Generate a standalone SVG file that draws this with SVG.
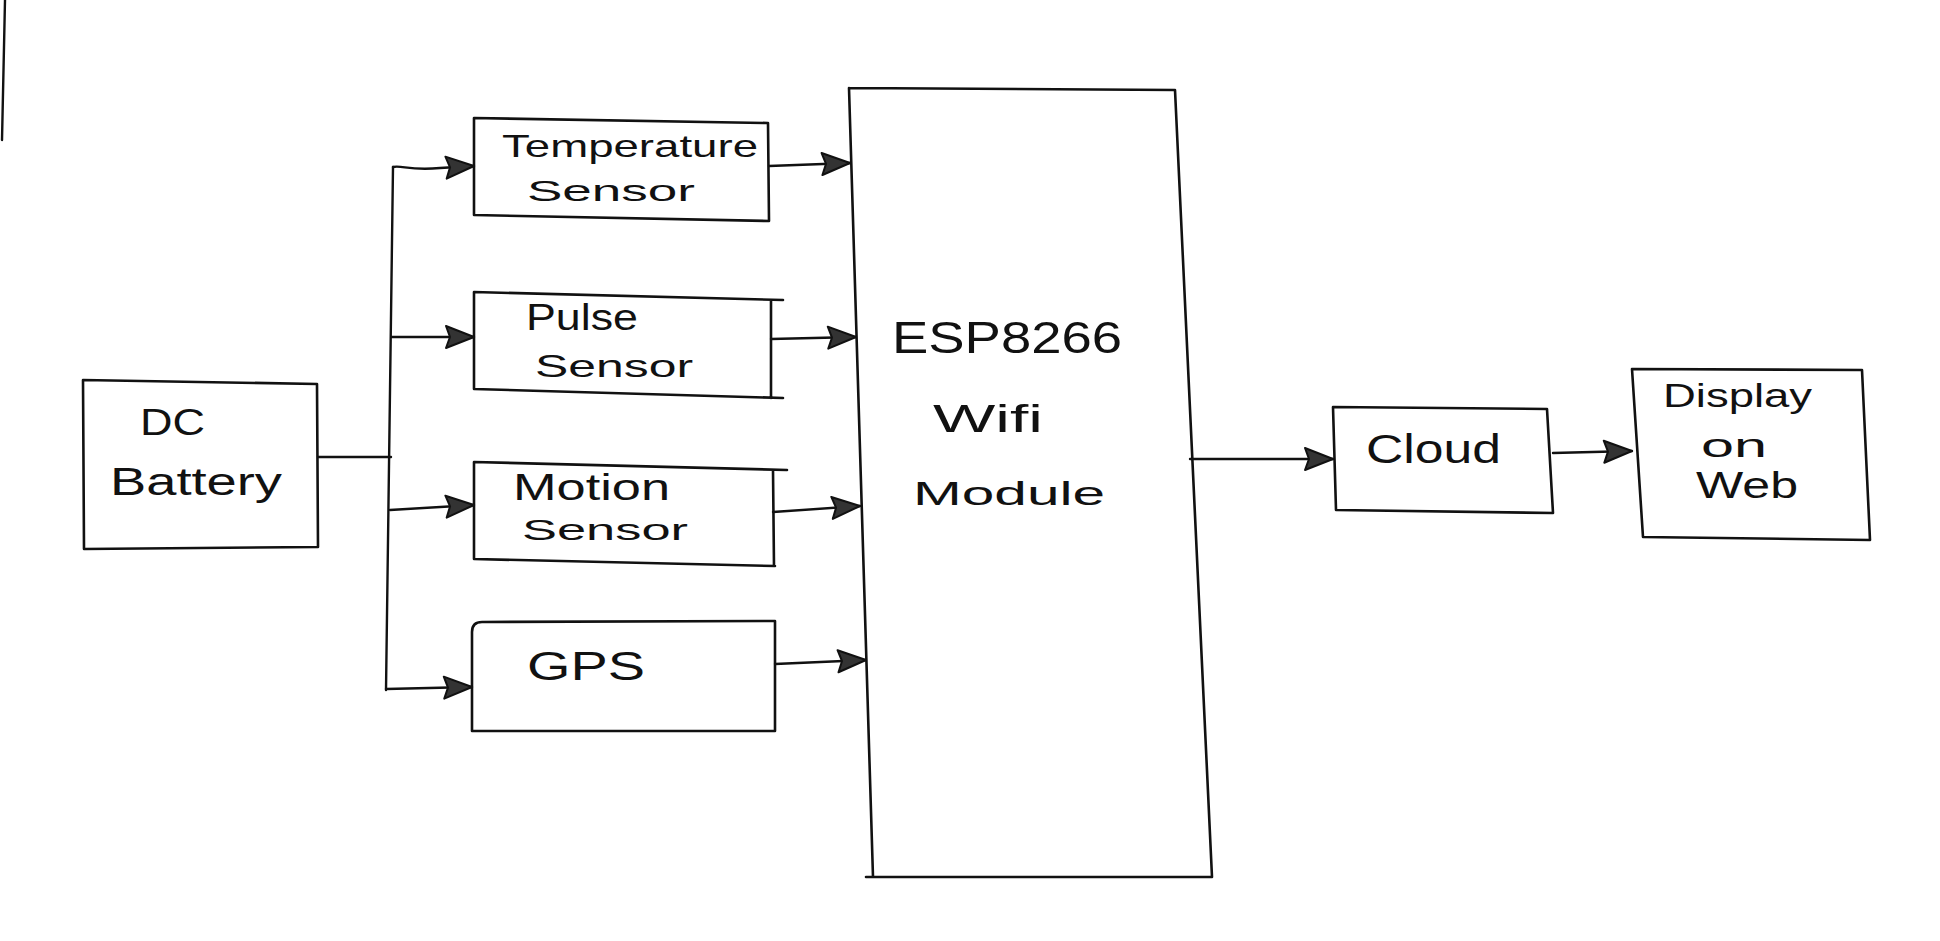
<svg xmlns="http://www.w3.org/2000/svg" width="1940" height="941" viewBox="0 0 1940 941">
<style>
.box{fill:none;stroke:#111;stroke-width:2.6;stroke-linejoin:round;stroke-linecap:round}
.ln{fill:none;stroke:#111;stroke-width:2.4;stroke-linecap:round}
.arr{marker-end:url(#ah)}
text{font-family:"Liberation Sans",Arial,sans-serif;fill:#111;lengthAdjust:spacingAndGlyphs}
</style>
<defs>
<marker id="ah" markerUnits="userSpaceOnUse" markerWidth="34" markerHeight="26" refX="32" refY="13" orient="auto">
<path d="M4,2 L32,13 L4,24 L8,13 Z" fill="#333" stroke="#111" stroke-width="2" stroke-linejoin="round"/>
</marker>
</defs>
<rect width="1940" height="941" fill="#fff"/>
<path class="ln" d="M5,0 L2,140"/>

<g id="dc-battery">
<path class="box" d="M83,380 L317,384 L318,547 L84,549 Z"/>
<text x="140" y="435" font-size="37" textLength="65" lengthAdjust="spacingAndGlyphs">DC</text>
<text x="110" y="495" font-size="38" textLength="172" lengthAdjust="spacingAndGlyphs">Battery</text>
</g>

<g id="temperature-sensor">
<path class="box" d="M474,118 L768,123 L769,221 L474,215 Z"/>
<text x="502" y="157" font-size="32" textLength="256" lengthAdjust="spacingAndGlyphs">Temperature</text>
<text x="527" y="201" font-size="30" textLength="168" lengthAdjust="spacingAndGlyphs">Sensor</text>
</g>

<g id="pulse-sensor">
<path class="box" d="M783,300 L474,292 L474,389 L783,398 M771,300 L771,398"/>
<text x="526" y="330" font-size="36" textLength="112" lengthAdjust="spacingAndGlyphs">Pulse</text>
<text x="535" y="377" font-size="32" textLength="158" lengthAdjust="spacingAndGlyphs">Sensor</text>
</g>

<g id="motion-sensor">
<path class="box" d="M787,470 L474,462 L474,559 L775,566 M773,470 L774,566"/>
<text x="513" y="500" font-size="36" textLength="157" lengthAdjust="spacingAndGlyphs">Motion</text>
<text x="522" y="540" font-size="30" textLength="166" lengthAdjust="spacingAndGlyphs">Sensor</text>
</g>

<g id="gps">
<path class="box" d="M482,622 L775,621 L775,731 L472,731 L472,632 Q472,622 482,622 Z"/>
<text x="527" y="680" font-size="40" textLength="118" lengthAdjust="spacingAndGlyphs">GPS</text>
</g>

<g id="esp8266">
<path class="box" d="M849,88 L1175,90 L1212,877 L866,877 M873,877 L849,88"/>
<text x="892" y="353" font-size="44" textLength="230" lengthAdjust="spacingAndGlyphs">ESP8266</text>
<text x="933" y="432" font-size="38" textLength="110" lengthAdjust="spacingAndGlyphs">Wifi</text>
<text x="913" y="505" font-size="34" textLength="192" lengthAdjust="spacingAndGlyphs">Module</text>
</g>

<g id="cloud">
<path class="box" d="M1333,407 L1547,409 L1553,513 L1336,510 Z"/>
<text x="1366" y="463" font-size="40" textLength="135" lengthAdjust="spacingAndGlyphs">Cloud</text>
</g>

<g id="display-on-web">
<path class="box" d="M1632,369 L1862,370 L1870,540 L1643,537 Z"/>
<text x="1663" y="407" font-size="33" textLength="149" lengthAdjust="spacingAndGlyphs">Display</text>
<text x="1701" y="457" font-size="34" textLength="66" lengthAdjust="spacingAndGlyphs">on</text>
<text x="1696" y="498" font-size="37" textLength="102" lengthAdjust="spacingAndGlyphs">Web</text>
</g>

<g id="connectors">
<path class="ln" d="M318,457 L391,457"/>
<path class="ln" d="M393,167 L386,690"/>
<path class="ln arr" d="M393,167 C402,165 410,171 440,168 L474,166"/>
<path class="ln arr" d="M392,337 L474,337"/>
<path class="ln arr" d="M390,510 L474,505"/>
<path class="ln arr" d="M386,689 L472,687"/>
<path class="ln arr" d="M769,166 L850,163"/>
<path class="ln arr" d="M771,339 L856,337"/>
<path class="ln arr" d="M773,512 L860,506"/>
<path class="ln arr" d="M775,664 L866,660"/>
<path class="ln arr" d="M1190,459 L1333,459"/>
<path class="ln arr" d="M1553,453 L1632,451"/>
</g>
</svg>
